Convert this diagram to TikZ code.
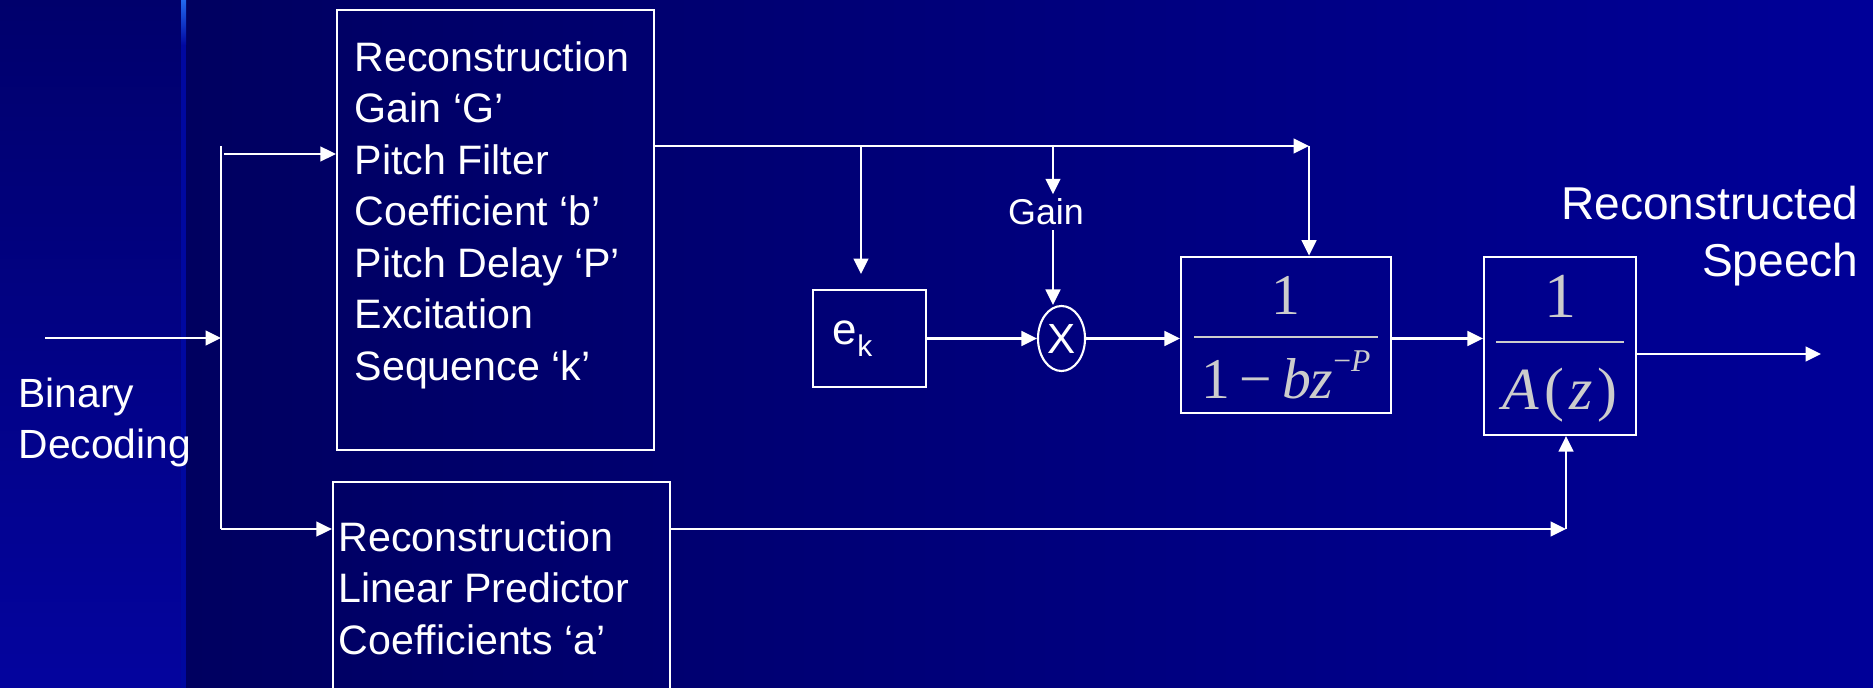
\documentclass[tikz,border=0pt]{standalone}
\usepackage{fontspec}
\setmainfont{Liberation Sans}
\newfontfamily\eqfont{Liberation Serif}
\usetikzlibrary{arrows.meta,shapes.geometric,calc}
\definecolor{slide}{HTML}{000060}
\definecolor{slidefar}{HTML}{000098}
\definecolor{bandtop}{HTML}{00006C}
\definecolor{bandbot}{HTML}{04049E}
\definecolor{edgehi}{HTML}{2268F0}
\definecolor{edge}{HTML}{0008A0}
\definecolor{eqgrey}{HTML}{CCCCCC}
% numerator, denominator, gap above bar, gap below bar, kern on top
\newcommand{\eqfrac}[5]{\vbox{\offinterlineskip\halign{\hskip2pt\hfil##\hfil\hskip2pt\cr
  \noalign{\kern#5}#1\cr\noalign{\kern#3\hrule height .7pt\kern#4}
  #2\cr}}}
\tikzset{
  blk/.style ={draw=white, line width=.6pt, inner sep=0pt},
  eq/.style  ={blk, text=eqgrey, font=\eqfont\fontsize{16.4}{20}\selectfont},
  mul/.style ={draw=white, line width=.6pt, ellipse, inner sep=0pt, text=white, font=\fontsize{12}{14}\selectfont},
  txt/.style ={text=white, align=left, inner sep=0pt, font=\fontsize{11.7}{14.65}\selectfont},
  ttl/.style ={text=white, align=right, inner sep=0pt, font=\fontsize{13.1}{16.2}\selectfont},
  tag/.style ={text=white, inner xsep=0pt, inner ysep=.4mm, font=\fontsize{10.2}{12}\selectfont},
  ln/.style  ={draw=white, line width=.6pt, -{Triangle[length=4.4pt,width=4.2pt]}},
  wire/.style={draw=white, line width=.6pt},
}

\begin{document}
\begin{tikzpicture}[x=.01cm,y=-.01cm]
    % slide background
    \useasboundingbox (0,0) rectangle (1873,688);
    \shade[left color=slide, right color=slidefar] (186,0) rectangle (1873,688);
    \shade[top color=bandtop, bottom color=bandbot] (0,0) rectangle (181,688);
    \shade[top color=edgehi, bottom color=edge] (181,0) rectangle (186,45);
    \fill[edge] (181,45) rectangle (186,688);

    % blocks
    \node[blk, minimum width=31.7mm, minimum height=44mm] (params) at (495.5,230) {};
    \node[txt, anchor=north west] (paramstxt) at (354,40.6)
      {Reconstruction\\ Gain ‘G’\\ Pitch Filter\\ Coefficient ‘b’\\ Pitch Delay ‘P’\\ Excitation\\ Sequence ‘k’};
    \node[blk, minimum width=33.7mm, minimum height=24mm] (lpc) at (501.5,602) {};
    \node[txt, anchor=north west] (lpctxt) at (338,520.6)
      {Reconstruction\\ Linear Predictor\\ Coefficients ‘a’};
    \node[blk, text=white, text width=7.3mm, inner xsep=2mm, align=left, minimum height=9.7mm,
          font=\fontsize{12.5}{14}\selectfont] (ek) at (869.5,338.5)
      {e\raisebox{-.28em}{\fontsize{8.5}{10}\selectfont k}};
    \node[mul, minimum width=4.7mm, minimum height=6.5mm] (mult) at (1061.5,338.5) {X};
    \node[eq, minimum width=21mm, minimum height=15.6mm] (pitch) at (1286,334.7)
      {\eqfrac{1}{1\,−\,\textit{bz}\raisebox{.47em}{\fontsize{9}{9}\selectfont −\textit{P}}}{6.1pt}{3.6pt}{1.8pt}};
    \node[eq, minimum width=15.2mm, minimum height=17.83mm, font=\eqfont\fontsize{17}{20}\selectfont] (synth) at (1560,345.85)
      {\eqfrac{\fontsize{18.2}{20}\selectfont 1}{\textit{A}\hspace{.08em}(\hspace{.08em}\textit{z}\hspace{.08em})}{6.5pt}{7.1pt}{1.8pt}};

    % labels
    \node[txt, anchor=north west, font=\fontsize{11.6}{14.5}\selectfont] (binlbl) at (18,377) {Binary\\ Decoding};
    \node[ttl, anchor=north east] (outlbl) at (1859,185.5) {Reconstructed\\ Speech};
    \node[tag, anchor=base] (gain) at (1046,225) {Gain};

    % wiring
    \coordinate (in)     at (45,338);
    \coordinate (ttop)   at (221,146);
    \coordinate (tup)    at (224,154);
    \coordinate (tbot)   at (221,529);
    \coordinate (bus)    at (1309,146);
    \coordinate (tapk)   at (861,146);
    \coordinate (ekin)   at (861,274);
    \coordinate (tapg)   at (1053,146);
    \coordinate (lpcbus) at (1566,529);
    \coordinate (out)    at (1821,354);

    \draw[ln] (in) -- (in -| ttop);
    \draw[wire] (ttop) -- (tbot);
    \draw[ln] (tup) -- (tup -| params.west);
    \draw[ln] (tbot) -- (tbot -| lpc.west);
    \draw[ln] (params.east |- bus) -- (bus);
    \draw[ln] (bus) -- (bus |- pitch.north);
    \draw[ln] (tapk) -- (ekin);
    \draw[ln] (tapg) -- (tapg |- gain.north);
    \draw[ln] (tapg |- gain.south) -- (tapg |- mult.north);
    \draw[ln] (ek.east) -- (mult.west);
    \draw[ln] (mult.east) -- (mult.east -| pitch.west);
    \draw[ln] (pitch.east |- mult) -- (synth.west |- mult);
    \draw[ln] (synth.east |- out) -- (out);
    \draw[ln] (lpc.east |- lpcbus) -- (lpcbus);
    \draw[ln] (lpcbus) -- (lpcbus |- synth.south);
\end{tikzpicture}
\end{document}
